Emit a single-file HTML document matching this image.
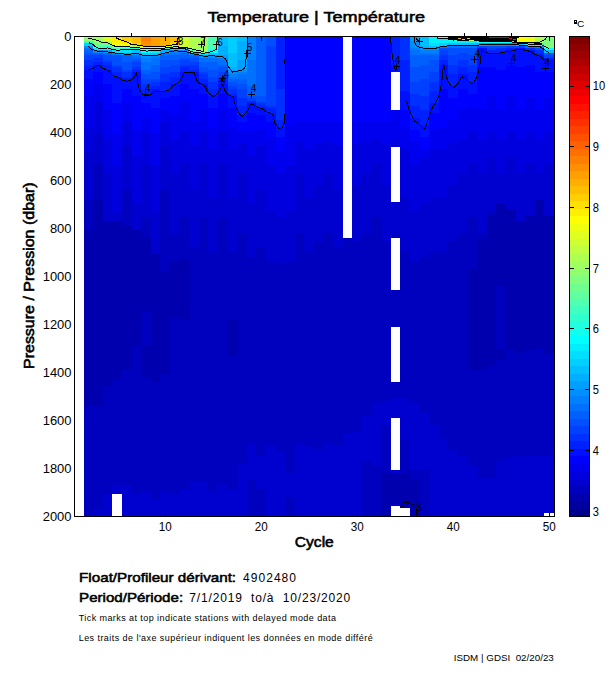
<!DOCTYPE html>
<html><head><meta charset="utf-8"><style>
html,body{margin:0;padding:0;background:#fff;}
svg{display:block;}
text{font-family:"Liberation Sans", sans-serif;fill:#000;}
</style></head><body>
<svg width="611" height="675" viewBox="0 0 611 675">
<rect x="0" y="0" width="611" height="675" fill="#fff"/>
<g shape-rendering="crispEdges">
<rect x="84" y="36.0" width="9" height="2.7" fill="#9fff60"/>
<rect x="84" y="38.4" width="9" height="2.7" fill="#8fff70"/>
<rect x="84" y="40.8" width="9" height="2.7" fill="#30ffcf"/>
<rect x="84" y="43.2" width="9" height="2.7" fill="#00cfff"/>
<rect x="84" y="45.6" width="9" height="2.7" fill="#008fff"/>
<rect x="84" y="48.0" width="9" height="2.7" fill="#0070ff"/>
<rect x="84" y="50.4" width="9" height="2.7" fill="#0060ff"/>
<rect x="84" y="52.8" width="9" height="2.7" fill="#0050ff"/>
<rect x="84" y="55.2" width="9" height="5.1" fill="#0040ff"/>
<rect x="84" y="60.0" width="9" height="5.1" fill="#0030ff"/>
<rect x="84" y="64.8" width="9" height="5.1" fill="#0020ff"/>
<rect x="84" y="69.6" width="9" height="9.9" fill="#0010ff"/>
<rect x="84" y="79.2" width="9" height="17.1" fill="#0000ff"/>
<rect x="84" y="96.0" width="9" height="31.5" fill="#0000ef"/>
<rect x="84" y="127.2" width="9" height="24.3" fill="#0000df"/>
<rect x="84" y="151.2" width="9" height="48.3" fill="#0000cf"/>
<rect x="84" y="199.2" width="9" height="31.5" fill="#0000bf"/>
<rect x="84" y="230.4" width="9" height="175.5" fill="#0000af"/>
<rect x="84" y="405.6" width="9" height="110.7" fill="#0000bf"/>
<rect x="93" y="36.0" width="10" height="2.7" fill="#afff50"/>
<rect x="93" y="38.4" width="10" height="2.7" fill="#9fff60"/>
<rect x="93" y="40.8" width="10" height="2.7" fill="#8fff70"/>
<rect x="93" y="43.2" width="10" height="2.7" fill="#70ff8f"/>
<rect x="93" y="45.6" width="10" height="2.7" fill="#50ffaf"/>
<rect x="93" y="48.0" width="10" height="2.7" fill="#00efff"/>
<rect x="93" y="50.4" width="10" height="2.7" fill="#008fff"/>
<rect x="93" y="52.8" width="10" height="2.7" fill="#0050ff"/>
<rect x="93" y="55.2" width="10" height="2.7" fill="#0040ff"/>
<rect x="93" y="57.6" width="10" height="5.1" fill="#0030ff"/>
<rect x="93" y="62.4" width="10" height="2.7" fill="#0020ff"/>
<rect x="93" y="64.8" width="10" height="7.5" fill="#0010ff"/>
<rect x="93" y="72.0" width="10" height="12.3" fill="#0000ff"/>
<rect x="93" y="84.0" width="10" height="17.1" fill="#0000ef"/>
<rect x="93" y="100.8" width="10" height="33.9" fill="#0000df"/>
<rect x="93" y="134.4" width="10" height="29.1" fill="#0000cf"/>
<rect x="93" y="163.2" width="10" height="36.3" fill="#0000bf"/>
<rect x="93" y="199.2" width="10" height="206.7" fill="#0000af"/>
<rect x="93" y="405.6" width="10" height="103.5" fill="#0000bf"/>
<rect x="93" y="508.8" width="10" height="7.5" fill="#0000cf"/>
<rect x="103" y="36.0" width="9" height="5.1" fill="#dfff20"/>
<rect x="103" y="40.8" width="9" height="2.7" fill="#afff50"/>
<rect x="103" y="43.2" width="9" height="2.7" fill="#70ff8f"/>
<rect x="103" y="45.6" width="9" height="2.7" fill="#30ffcf"/>
<rect x="103" y="48.0" width="9" height="2.7" fill="#00efff"/>
<rect x="103" y="50.4" width="9" height="2.7" fill="#009fff"/>
<rect x="103" y="52.8" width="9" height="2.7" fill="#0060ff"/>
<rect x="103" y="55.2" width="9" height="5.1" fill="#0050ff"/>
<rect x="103" y="60.0" width="9" height="2.7" fill="#0040ff"/>
<rect x="103" y="62.4" width="9" height="2.7" fill="#0030ff"/>
<rect x="103" y="64.8" width="9" height="5.1" fill="#0020ff"/>
<rect x="103" y="69.6" width="9" height="14.7" fill="#0010ff"/>
<rect x="103" y="84.0" width="9" height="26.7" fill="#0000ff"/>
<rect x="103" y="110.4" width="9" height="29.1" fill="#0000ef"/>
<rect x="103" y="139.2" width="9" height="33.9" fill="#0000df"/>
<rect x="103" y="172.8" width="9" height="48.3" fill="#0000cf"/>
<rect x="103" y="220.8" width="9" height="165.9" fill="#0000af"/>
<rect x="103" y="386.4" width="9" height="108.3" fill="#0000bf"/>
<rect x="103" y="494.4" width="9" height="21.9" fill="#0000cf"/>
<rect x="112" y="36.0" width="10" height="2.7" fill="#ffdf00"/>
<rect x="112" y="38.4" width="10" height="5.1" fill="#ffef00"/>
<rect x="112" y="43.2" width="10" height="2.7" fill="#efff10"/>
<rect x="112" y="45.6" width="10" height="2.7" fill="#9fff60"/>
<rect x="112" y="48.0" width="10" height="2.7" fill="#40ffbf"/>
<rect x="112" y="50.4" width="10" height="2.7" fill="#00dfff"/>
<rect x="112" y="52.8" width="10" height="2.7" fill="#0080ff"/>
<rect x="112" y="55.2" width="10" height="9.9" fill="#0050ff"/>
<rect x="112" y="64.8" width="10" height="2.7" fill="#0040ff"/>
<rect x="112" y="67.2" width="10" height="5.1" fill="#0030ff"/>
<rect x="112" y="72.0" width="10" height="5.1" fill="#0020ff"/>
<rect x="112" y="76.8" width="10" height="26.7" fill="#0010ff"/>
<rect x="112" y="103.2" width="10" height="31.5" fill="#0000ff"/>
<rect x="112" y="134.4" width="10" height="31.5" fill="#0000ef"/>
<rect x="112" y="165.6" width="10" height="45.9" fill="#0000df"/>
<rect x="112" y="211.2" width="10" height="9.9" fill="#0000cf"/>
<rect x="112" y="220.8" width="10" height="158.7" fill="#0000af"/>
<rect x="112" y="379.2" width="10" height="105.9" fill="#0000bf"/>
<rect x="112" y="484.8" width="10" height="9.9" fill="#0000cf"/>
<rect x="122" y="36.0" width="10" height="2.7" fill="#ffbf00"/>
<rect x="122" y="38.4" width="10" height="2.7" fill="#ffcf00"/>
<rect x="122" y="40.8" width="10" height="2.7" fill="#ffdf00"/>
<rect x="122" y="43.2" width="10" height="2.7" fill="#ffff00"/>
<rect x="122" y="45.6" width="10" height="2.7" fill="#8fff70"/>
<rect x="122" y="48.0" width="10" height="2.7" fill="#20ffdf"/>
<rect x="122" y="50.4" width="10" height="2.7" fill="#00dfff"/>
<rect x="122" y="52.8" width="10" height="2.7" fill="#009fff"/>
<rect x="122" y="55.2" width="10" height="7.5" fill="#0060ff"/>
<rect x="122" y="62.4" width="10" height="7.5" fill="#0050ff"/>
<rect x="122" y="69.6" width="10" height="2.7" fill="#0040ff"/>
<rect x="122" y="72.0" width="10" height="5.1" fill="#0030ff"/>
<rect x="122" y="76.8" width="10" height="2.7" fill="#0020ff"/>
<rect x="122" y="79.2" width="10" height="9.9" fill="#0010ff"/>
<rect x="122" y="88.8" width="10" height="14.7" fill="#0000ff"/>
<rect x="122" y="103.2" width="10" height="19.5" fill="#0000ef"/>
<rect x="122" y="122.4" width="10" height="24.3" fill="#0000df"/>
<rect x="122" y="146.4" width="10" height="43.5" fill="#0000cf"/>
<rect x="122" y="189.6" width="10" height="36.3" fill="#0000bf"/>
<rect x="122" y="225.6" width="10" height="144.3" fill="#0000af"/>
<rect x="122" y="369.6" width="10" height="115.5" fill="#0000bf"/>
<rect x="122" y="484.8" width="10" height="31.5" fill="#0000cf"/>
<rect x="132" y="36.0" width="9" height="2.7" fill="#ffaf00"/>
<rect x="132" y="38.4" width="9" height="5.1" fill="#ffbf00"/>
<rect x="132" y="43.2" width="9" height="2.7" fill="#ffcf00"/>
<rect x="132" y="45.6" width="9" height="2.7" fill="#bfff40"/>
<rect x="132" y="48.0" width="9" height="2.7" fill="#20ffdf"/>
<rect x="132" y="50.4" width="9" height="2.7" fill="#00bfff"/>
<rect x="132" y="52.8" width="9" height="2.7" fill="#008fff"/>
<rect x="132" y="55.2" width="9" height="2.7" fill="#0070ff"/>
<rect x="132" y="57.6" width="9" height="2.7" fill="#0060ff"/>
<rect x="132" y="60.0" width="9" height="2.7" fill="#0050ff"/>
<rect x="132" y="62.4" width="9" height="5.1" fill="#0040ff"/>
<rect x="132" y="67.2" width="9" height="2.7" fill="#0030ff"/>
<rect x="132" y="69.6" width="9" height="2.7" fill="#0020ff"/>
<rect x="132" y="72.0" width="9" height="24.3" fill="#0010ff"/>
<rect x="132" y="96.0" width="9" height="33.9" fill="#0000ff"/>
<rect x="132" y="129.6" width="9" height="26.7" fill="#0000ef"/>
<rect x="132" y="156.0" width="9" height="48.3" fill="#0000df"/>
<rect x="132" y="204.0" width="9" height="26.7" fill="#0000cf"/>
<rect x="132" y="230.4" width="9" height="115.5" fill="#0000af"/>
<rect x="132" y="345.6" width="9" height="149.1" fill="#0000bf"/>
<rect x="132" y="494.4" width="9" height="21.9" fill="#0000cf"/>
<rect x="141" y="36.0" width="10" height="5.1" fill="#ff8000"/>
<rect x="141" y="40.8" width="10" height="5.1" fill="#ff8f00"/>
<rect x="141" y="45.6" width="10" height="2.7" fill="#ffef00"/>
<rect x="141" y="48.0" width="10" height="2.7" fill="#8fff70"/>
<rect x="141" y="50.4" width="10" height="2.7" fill="#00ffff"/>
<rect x="141" y="52.8" width="10" height="2.7" fill="#00bfff"/>
<rect x="141" y="55.2" width="10" height="2.7" fill="#008fff"/>
<rect x="141" y="57.6" width="10" height="5.1" fill="#0080ff"/>
<rect x="141" y="62.4" width="10" height="7.5" fill="#0070ff"/>
<rect x="141" y="69.6" width="10" height="5.1" fill="#0060ff"/>
<rect x="141" y="74.4" width="10" height="5.1" fill="#0050ff"/>
<rect x="141" y="79.2" width="10" height="5.1" fill="#0040ff"/>
<rect x="141" y="84.0" width="10" height="5.1" fill="#0030ff"/>
<rect x="141" y="88.8" width="10" height="5.1" fill="#0020ff"/>
<rect x="141" y="93.6" width="10" height="9.9" fill="#0010ff"/>
<rect x="141" y="103.2" width="10" height="14.7" fill="#0000ff"/>
<rect x="141" y="117.6" width="10" height="14.7" fill="#0000ef"/>
<rect x="141" y="132.0" width="10" height="31.5" fill="#0000df"/>
<rect x="141" y="163.2" width="10" height="55.5" fill="#0000cf"/>
<rect x="141" y="218.4" width="10" height="19.5" fill="#0000bf"/>
<rect x="141" y="237.6" width="10" height="74.7" fill="#0000af"/>
<rect x="141" y="312.0" width="10" height="33.9" fill="#0000bf"/>
<rect x="141" y="345.6" width="10" height="31.5" fill="#0000af"/>
<rect x="141" y="376.8" width="10" height="115.5" fill="#0000bf"/>
<rect x="141" y="492.0" width="10" height="24.3" fill="#0000cf"/>
<rect x="151" y="36.0" width="9" height="9.9" fill="#ff9f00"/>
<rect x="151" y="45.6" width="9" height="2.7" fill="#ffef00"/>
<rect x="151" y="48.0" width="9" height="2.7" fill="#40ffbf"/>
<rect x="151" y="50.4" width="9" height="2.7" fill="#00efff"/>
<rect x="151" y="52.8" width="9" height="2.7" fill="#00bfff"/>
<rect x="151" y="55.2" width="9" height="2.7" fill="#0080ff"/>
<rect x="151" y="57.6" width="9" height="7.5" fill="#0070ff"/>
<rect x="151" y="64.8" width="9" height="7.5" fill="#0060ff"/>
<rect x="151" y="72.0" width="9" height="7.5" fill="#0050ff"/>
<rect x="151" y="79.2" width="9" height="2.7" fill="#0040ff"/>
<rect x="151" y="81.6" width="9" height="5.1" fill="#0030ff"/>
<rect x="151" y="86.4" width="9" height="2.7" fill="#0020ff"/>
<rect x="151" y="88.8" width="9" height="19.5" fill="#0010ff"/>
<rect x="151" y="108.0" width="9" height="26.7" fill="#0000ff"/>
<rect x="151" y="134.4" width="9" height="31.5" fill="#0000ef"/>
<rect x="151" y="165.6" width="9" height="45.9" fill="#0000df"/>
<rect x="151" y="211.2" width="9" height="43.5" fill="#0000cf"/>
<rect x="151" y="254.4" width="9" height="127.5" fill="#0000af"/>
<rect x="151" y="381.6" width="9" height="117.9" fill="#0000bf"/>
<rect x="151" y="499.2" width="9" height="17.1" fill="#0000cf"/>
<rect x="160" y="36.0" width="10" height="2.7" fill="#ff9f00"/>
<rect x="160" y="38.4" width="10" height="7.5" fill="#ffaf00"/>
<rect x="160" y="45.6" width="10" height="2.7" fill="#ffff00"/>
<rect x="160" y="48.0" width="10" height="2.7" fill="#30ffcf"/>
<rect x="160" y="50.4" width="10" height="2.7" fill="#00afff"/>
<rect x="160" y="52.8" width="10" height="2.7" fill="#0070ff"/>
<rect x="160" y="55.2" width="10" height="5.1" fill="#0060ff"/>
<rect x="160" y="60.0" width="10" height="7.5" fill="#0050ff"/>
<rect x="160" y="67.2" width="10" height="7.5" fill="#0040ff"/>
<rect x="160" y="74.4" width="10" height="7.5" fill="#0030ff"/>
<rect x="160" y="81.6" width="10" height="9.9" fill="#0020ff"/>
<rect x="160" y="91.2" width="10" height="7.5" fill="#0010ff"/>
<rect x="160" y="98.4" width="10" height="12.3" fill="#0000ff"/>
<rect x="160" y="110.4" width="10" height="12.3" fill="#0000ef"/>
<rect x="160" y="122.4" width="10" height="24.3" fill="#0000df"/>
<rect x="160" y="146.4" width="10" height="43.5" fill="#0000cf"/>
<rect x="160" y="189.6" width="10" height="81.9" fill="#0000bf"/>
<rect x="160" y="271.2" width="10" height="103.5" fill="#0000af"/>
<rect x="160" y="374.4" width="10" height="117.9" fill="#0000bf"/>
<rect x="160" y="492.0" width="10" height="24.3" fill="#0000cf"/>
<rect x="170" y="36.0" width="10" height="5.1" fill="#ffbf00"/>
<rect x="170" y="40.8" width="10" height="2.7" fill="#ffcf00"/>
<rect x="170" y="43.2" width="10" height="2.7" fill="#ffdf00"/>
<rect x="170" y="45.6" width="10" height="2.7" fill="#8fff70"/>
<rect x="170" y="48.0" width="10" height="2.7" fill="#00cfff"/>
<rect x="170" y="50.4" width="10" height="2.7" fill="#0080ff"/>
<rect x="170" y="52.8" width="10" height="2.7" fill="#0070ff"/>
<rect x="170" y="55.2" width="10" height="5.1" fill="#0060ff"/>
<rect x="170" y="60.0" width="10" height="5.1" fill="#0050ff"/>
<rect x="170" y="64.8" width="10" height="7.5" fill="#0040ff"/>
<rect x="170" y="72.0" width="10" height="5.1" fill="#0030ff"/>
<rect x="170" y="76.8" width="10" height="7.5" fill="#0020ff"/>
<rect x="170" y="84.0" width="10" height="12.3" fill="#0010ff"/>
<rect x="170" y="96.0" width="10" height="17.1" fill="#0000ff"/>
<rect x="170" y="112.8" width="10" height="26.7" fill="#0000ef"/>
<rect x="170" y="139.2" width="10" height="33.9" fill="#0000df"/>
<rect x="170" y="172.8" width="10" height="60.3" fill="#0000cf"/>
<rect x="170" y="232.8" width="10" height="29.1" fill="#0000bf"/>
<rect x="170" y="261.6" width="10" height="55.5" fill="#0000af"/>
<rect x="170" y="316.8" width="10" height="177.9" fill="#0000bf"/>
<rect x="170" y="494.4" width="10" height="21.9" fill="#0000cf"/>
<rect x="180" y="36.0" width="9" height="12.3" fill="#cfff30"/>
<rect x="180" y="48.0" width="9" height="2.7" fill="#00efff"/>
<rect x="180" y="50.4" width="9" height="2.7" fill="#0080ff"/>
<rect x="180" y="52.8" width="9" height="5.1" fill="#0060ff"/>
<rect x="180" y="57.6" width="9" height="2.7" fill="#0050ff"/>
<rect x="180" y="60.0" width="9" height="5.1" fill="#0040ff"/>
<rect x="180" y="64.8" width="9" height="2.7" fill="#0030ff"/>
<rect x="180" y="67.2" width="9" height="5.1" fill="#0020ff"/>
<rect x="180" y="72.0" width="9" height="12.3" fill="#0010ff"/>
<rect x="180" y="84.0" width="9" height="17.1" fill="#0000ff"/>
<rect x="180" y="100.8" width="9" height="31.5" fill="#0000ef"/>
<rect x="180" y="132.0" width="9" height="31.5" fill="#0000df"/>
<rect x="180" y="163.2" width="9" height="55.5" fill="#0000cf"/>
<rect x="180" y="218.4" width="9" height="41.1" fill="#0000bf"/>
<rect x="180" y="259.2" width="9" height="60.3" fill="#0000af"/>
<rect x="180" y="319.2" width="9" height="170.7" fill="#0000bf"/>
<rect x="180" y="489.6" width="9" height="26.7" fill="#0000cf"/>
<rect x="189" y="36.0" width="10" height="12.3" fill="#afff50"/>
<rect x="189" y="48.0" width="10" height="2.7" fill="#9fff60"/>
<rect x="189" y="50.4" width="10" height="2.7" fill="#50ffaf"/>
<rect x="189" y="52.8" width="10" height="2.7" fill="#008fff"/>
<rect x="189" y="55.2" width="10" height="2.7" fill="#0060ff"/>
<rect x="189" y="57.6" width="10" height="5.1" fill="#0050ff"/>
<rect x="189" y="62.4" width="10" height="2.7" fill="#0040ff"/>
<rect x="189" y="64.8" width="10" height="5.1" fill="#0030ff"/>
<rect x="189" y="69.6" width="10" height="2.7" fill="#0020ff"/>
<rect x="189" y="72.0" width="10" height="17.1" fill="#0010ff"/>
<rect x="189" y="88.8" width="10" height="33.9" fill="#0000ff"/>
<rect x="189" y="122.4" width="10" height="24.3" fill="#0000ef"/>
<rect x="189" y="146.4" width="10" height="43.5" fill="#0000df"/>
<rect x="189" y="189.6" width="10" height="57.9" fill="#0000cf"/>
<rect x="189" y="247.2" width="10" height="235.5" fill="#0000bf"/>
<rect x="189" y="482.4" width="10" height="33.9" fill="#0000cf"/>
<rect x="199" y="36.0" width="9" height="17.1" fill="#9fff60"/>
<rect x="199" y="52.8" width="9" height="2.7" fill="#00dfff"/>
<rect x="199" y="55.2" width="9" height="2.7" fill="#008fff"/>
<rect x="199" y="57.6" width="9" height="5.1" fill="#0070ff"/>
<rect x="199" y="62.4" width="9" height="5.1" fill="#0060ff"/>
<rect x="199" y="67.2" width="9" height="5.1" fill="#0050ff"/>
<rect x="199" y="72.0" width="9" height="2.7" fill="#0040ff"/>
<rect x="199" y="74.4" width="9" height="5.1" fill="#0030ff"/>
<rect x="199" y="79.2" width="9" height="5.1" fill="#0020ff"/>
<rect x="199" y="84.0" width="9" height="9.9" fill="#0010ff"/>
<rect x="199" y="93.6" width="9" height="17.1" fill="#0000ff"/>
<rect x="199" y="110.4" width="9" height="21.9" fill="#0000ef"/>
<rect x="199" y="132.0" width="9" height="31.5" fill="#0000df"/>
<rect x="199" y="163.2" width="9" height="55.5" fill="#0000cf"/>
<rect x="199" y="218.4" width="9" height="264.3" fill="#0000bf"/>
<rect x="199" y="482.4" width="9" height="33.9" fill="#0000cf"/>
<rect x="208" y="36.0" width="10" height="12.3" fill="#50ffaf"/>
<rect x="208" y="48.0" width="10" height="2.7" fill="#40ffbf"/>
<rect x="208" y="50.4" width="10" height="2.7" fill="#00ffff"/>
<rect x="208" y="52.8" width="10" height="2.7" fill="#00bfff"/>
<rect x="208" y="55.2" width="10" height="2.7" fill="#008fff"/>
<rect x="208" y="57.6" width="10" height="5.1" fill="#0070ff"/>
<rect x="208" y="62.4" width="10" height="7.5" fill="#0060ff"/>
<rect x="208" y="69.6" width="10" height="7.5" fill="#0050ff"/>
<rect x="208" y="76.8" width="10" height="5.1" fill="#0040ff"/>
<rect x="208" y="81.6" width="10" height="7.5" fill="#0030ff"/>
<rect x="208" y="88.8" width="10" height="7.5" fill="#0020ff"/>
<rect x="208" y="96.0" width="10" height="12.3" fill="#0010ff"/>
<rect x="208" y="108.0" width="10" height="19.5" fill="#0000ff"/>
<rect x="208" y="127.2" width="10" height="21.9" fill="#0000ef"/>
<rect x="208" y="148.8" width="10" height="48.3" fill="#0000df"/>
<rect x="208" y="196.8" width="10" height="55.5" fill="#0000cf"/>
<rect x="208" y="252.0" width="10" height="240.3" fill="#0000bf"/>
<rect x="208" y="492.0" width="10" height="24.3" fill="#0000cf"/>
<rect x="218" y="36.0" width="10" height="9.9" fill="#00bfff"/>
<rect x="218" y="45.6" width="10" height="9.9" fill="#00afff"/>
<rect x="218" y="55.2" width="10" height="2.7" fill="#009fff"/>
<rect x="218" y="57.6" width="10" height="2.7" fill="#0080ff"/>
<rect x="218" y="60.0" width="10" height="5.1" fill="#0070ff"/>
<rect x="218" y="64.8" width="10" height="2.7" fill="#0060ff"/>
<rect x="218" y="67.2" width="10" height="5.1" fill="#0050ff"/>
<rect x="218" y="72.0" width="10" height="5.1" fill="#0040ff"/>
<rect x="218" y="76.8" width="10" height="2.7" fill="#0030ff"/>
<rect x="218" y="79.2" width="10" height="5.1" fill="#0020ff"/>
<rect x="218" y="84.0" width="10" height="9.9" fill="#0010ff"/>
<rect x="218" y="93.6" width="10" height="17.1" fill="#0000ff"/>
<rect x="218" y="110.4" width="10" height="21.9" fill="#0000ef"/>
<rect x="218" y="132.0" width="10" height="31.5" fill="#0000df"/>
<rect x="218" y="163.2" width="10" height="55.5" fill="#0000cf"/>
<rect x="218" y="218.4" width="10" height="266.7" fill="#0000bf"/>
<rect x="218" y="484.8" width="10" height="31.5" fill="#0000cf"/>
<rect x="228" y="36.0" width="9" height="17.1" fill="#00cfff"/>
<rect x="228" y="52.8" width="9" height="14.7" fill="#00bfff"/>
<rect x="228" y="67.2" width="9" height="2.7" fill="#00afff"/>
<rect x="228" y="69.6" width="9" height="2.7" fill="#009fff"/>
<rect x="228" y="72.0" width="9" height="2.7" fill="#008fff"/>
<rect x="228" y="74.4" width="9" height="2.7" fill="#0080ff"/>
<rect x="228" y="76.8" width="9" height="2.7" fill="#0070ff"/>
<rect x="228" y="79.2" width="9" height="2.7" fill="#0060ff"/>
<rect x="228" y="81.6" width="9" height="5.1" fill="#0050ff"/>
<rect x="228" y="86.4" width="9" height="2.7" fill="#0040ff"/>
<rect x="228" y="88.8" width="9" height="5.1" fill="#0030ff"/>
<rect x="228" y="93.6" width="9" height="2.7" fill="#0020ff"/>
<rect x="228" y="96.0" width="9" height="12.3" fill="#0010ff"/>
<rect x="228" y="108.0" width="9" height="19.5" fill="#0000ff"/>
<rect x="228" y="127.2" width="9" height="21.9" fill="#0000ef"/>
<rect x="228" y="148.8" width="9" height="48.3" fill="#0000df"/>
<rect x="228" y="196.8" width="9" height="55.5" fill="#0000cf"/>
<rect x="228" y="252.0" width="9" height="67.5" fill="#0000bf"/>
<rect x="228" y="319.2" width="9" height="36.3" fill="#0000af"/>
<rect x="228" y="355.2" width="9" height="134.7" fill="#0000bf"/>
<rect x="228" y="489.6" width="9" height="26.7" fill="#0000cf"/>
<rect x="237" y="36.0" width="10" height="5.1" fill="#00bfff"/>
<rect x="237" y="40.8" width="10" height="19.5" fill="#00afff"/>
<rect x="237" y="60.0" width="10" height="9.9" fill="#009fff"/>
<rect x="237" y="69.6" width="10" height="2.7" fill="#008fff"/>
<rect x="237" y="72.0" width="10" height="2.7" fill="#0080ff"/>
<rect x="237" y="74.4" width="10" height="5.1" fill="#0070ff"/>
<rect x="237" y="79.2" width="10" height="5.1" fill="#0060ff"/>
<rect x="237" y="84.0" width="10" height="5.1" fill="#0050ff"/>
<rect x="237" y="88.8" width="10" height="9.9" fill="#0040ff"/>
<rect x="237" y="98.4" width="10" height="7.5" fill="#0030ff"/>
<rect x="237" y="105.6" width="10" height="9.9" fill="#0020ff"/>
<rect x="237" y="115.2" width="10" height="7.5" fill="#0010ff"/>
<rect x="237" y="122.4" width="10" height="9.9" fill="#0000ff"/>
<rect x="237" y="132.0" width="10" height="12.3" fill="#0000ef"/>
<rect x="237" y="144.0" width="10" height="29.1" fill="#0000df"/>
<rect x="237" y="172.8" width="10" height="60.3" fill="#0000cf"/>
<rect x="237" y="232.8" width="10" height="230.7" fill="#0000bf"/>
<rect x="237" y="463.2" width="10" height="53.1" fill="#0000cf"/>
<rect x="247" y="36.0" width="9" height="24.3" fill="#0080ff"/>
<rect x="247" y="60.0" width="9" height="26.7" fill="#0070ff"/>
<rect x="247" y="86.4" width="9" height="9.9" fill="#0060ff"/>
<rect x="247" y="96.0" width="9" height="2.7" fill="#0050ff"/>
<rect x="247" y="98.4" width="9" height="2.7" fill="#0040ff"/>
<rect x="247" y="100.8" width="9" height="2.7" fill="#0020ff"/>
<rect x="247" y="103.2" width="9" height="9.9" fill="#0010ff"/>
<rect x="247" y="112.8" width="9" height="19.5" fill="#0000ff"/>
<rect x="247" y="132.0" width="9" height="24.3" fill="#0000ef"/>
<rect x="247" y="156.0" width="9" height="48.3" fill="#0000df"/>
<rect x="247" y="204.0" width="9" height="53.1" fill="#0000cf"/>
<rect x="247" y="256.8" width="9" height="187.5" fill="#0000bf"/>
<rect x="247" y="444.0" width="9" height="36.3" fill="#0000cf"/>
<rect x="247" y="480.0" width="9" height="36.3" fill="#0000bf"/>
<rect x="256" y="36.0" width="10" height="60.3" fill="#0060ff"/>
<rect x="256" y="96.0" width="10" height="5.1" fill="#0050ff"/>
<rect x="256" y="100.8" width="10" height="2.7" fill="#0040ff"/>
<rect x="256" y="103.2" width="10" height="2.7" fill="#0030ff"/>
<rect x="256" y="105.6" width="10" height="2.7" fill="#0020ff"/>
<rect x="256" y="108.0" width="10" height="7.5" fill="#0010ff"/>
<rect x="256" y="115.2" width="10" height="14.7" fill="#0000ff"/>
<rect x="256" y="129.6" width="10" height="17.1" fill="#0000ef"/>
<rect x="256" y="146.4" width="10" height="43.5" fill="#0000df"/>
<rect x="256" y="189.6" width="10" height="57.9" fill="#0000cf"/>
<rect x="256" y="247.2" width="10" height="209.1" fill="#0000bf"/>
<rect x="256" y="456.0" width="10" height="33.9" fill="#0000cf"/>
<rect x="256" y="489.6" width="10" height="26.7" fill="#0000bf"/>
<rect x="266" y="36.0" width="10" height="9.9" fill="#0050ff"/>
<rect x="266" y="45.6" width="10" height="60.3" fill="#0040ff"/>
<rect x="266" y="105.6" width="10" height="2.7" fill="#0030ff"/>
<rect x="266" y="108.0" width="10" height="5.1" fill="#0020ff"/>
<rect x="266" y="112.8" width="10" height="9.9" fill="#0010ff"/>
<rect x="266" y="122.4" width="10" height="14.7" fill="#0000ff"/>
<rect x="266" y="136.8" width="10" height="29.1" fill="#0000ef"/>
<rect x="266" y="165.6" width="10" height="45.9" fill="#0000df"/>
<rect x="266" y="211.2" width="10" height="50.7" fill="#0000cf"/>
<rect x="266" y="261.6" width="10" height="185.1" fill="#0000bf"/>
<rect x="266" y="446.4" width="10" height="69.9" fill="#0000cf"/>
<rect x="276" y="36.0" width="9" height="53.1" fill="#0020ff"/>
<rect x="276" y="88.8" width="9" height="31.5" fill="#0030ff"/>
<rect x="276" y="120.0" width="9" height="7.5" fill="#0020ff"/>
<rect x="276" y="127.2" width="9" height="9.9" fill="#0010ff"/>
<rect x="276" y="136.8" width="9" height="14.7" fill="#0000ff"/>
<rect x="276" y="151.2" width="9" height="21.9" fill="#0000ef"/>
<rect x="276" y="172.8" width="9" height="45.9" fill="#0000df"/>
<rect x="276" y="218.4" width="9" height="45.9" fill="#0000cf"/>
<rect x="276" y="264.0" width="9" height="187.5" fill="#0000bf"/>
<rect x="276" y="451.2" width="9" height="65.1" fill="#0000cf"/>
<rect x="285" y="36.0" width="10" height="89.1" fill="#0000ff"/>
<rect x="285" y="124.8" width="10" height="41.1" fill="#0000ef"/>
<rect x="285" y="165.6" width="10" height="45.9" fill="#0000df"/>
<rect x="285" y="211.2" width="10" height="50.7" fill="#0000cf"/>
<rect x="285" y="261.6" width="10" height="211.5" fill="#0000bf"/>
<rect x="285" y="472.8" width="10" height="24.3" fill="#0000cf"/>
<rect x="285" y="496.8" width="10" height="19.5" fill="#0000bf"/>
<rect x="295" y="36.0" width="9" height="86.7" fill="#0000ff"/>
<rect x="295" y="122.4" width="9" height="19.5" fill="#0000ef"/>
<rect x="295" y="141.6" width="9" height="31.5" fill="#0000df"/>
<rect x="295" y="172.8" width="9" height="60.3" fill="#0000cf"/>
<rect x="295" y="232.8" width="9" height="211.5" fill="#0000bf"/>
<rect x="295" y="444.0" width="9" height="72.3" fill="#0000cf"/>
<rect x="304" y="36.0" width="10" height="86.7" fill="#0000ff"/>
<rect x="304" y="122.4" width="10" height="26.7" fill="#0000ef"/>
<rect x="304" y="148.8" width="10" height="48.3" fill="#0000df"/>
<rect x="304" y="196.8" width="10" height="55.5" fill="#0000cf"/>
<rect x="304" y="252.0" width="10" height="194.7" fill="#0000bf"/>
<rect x="304" y="446.4" width="10" height="69.9" fill="#0000cf"/>
<rect x="314" y="36.0" width="10" height="86.7" fill="#0000ff"/>
<rect x="314" y="122.4" width="10" height="21.9" fill="#0000ef"/>
<rect x="314" y="144.0" width="10" height="41.1" fill="#0000df"/>
<rect x="314" y="184.8" width="10" height="57.9" fill="#0000cf"/>
<rect x="314" y="242.4" width="10" height="206.7" fill="#0000bf"/>
<rect x="314" y="448.8" width="10" height="67.5" fill="#0000cf"/>
<rect x="324" y="36.0" width="9" height="86.7" fill="#0000ff"/>
<rect x="324" y="122.4" width="9" height="19.5" fill="#0000ef"/>
<rect x="324" y="141.6" width="9" height="31.5" fill="#0000df"/>
<rect x="324" y="172.8" width="9" height="60.3" fill="#0000cf"/>
<rect x="324" y="232.8" width="9" height="211.5" fill="#0000bf"/>
<rect x="324" y="444.0" width="9" height="72.3" fill="#0000cf"/>
<rect x="333" y="36.0" width="10" height="86.7" fill="#0000ff"/>
<rect x="333" y="122.4" width="10" height="24.3" fill="#0000ef"/>
<rect x="333" y="146.4" width="10" height="43.5" fill="#0000df"/>
<rect x="333" y="189.6" width="10" height="57.9" fill="#0000cf"/>
<rect x="333" y="247.2" width="10" height="199.5" fill="#0000bf"/>
<rect x="333" y="446.4" width="10" height="69.9" fill="#0000cf"/>
<rect x="343" y="237.6" width="9" height="197.1" fill="#0000bf"/>
<rect x="343" y="434.4" width="9" height="81.9" fill="#0000cf"/>
<rect x="352" y="36.0" width="10" height="86.7" fill="#0000ff"/>
<rect x="352" y="122.4" width="10" height="21.9" fill="#0000ef"/>
<rect x="352" y="144.0" width="10" height="41.1" fill="#0000df"/>
<rect x="352" y="184.8" width="10" height="57.9" fill="#0000cf"/>
<rect x="352" y="242.4" width="10" height="189.9" fill="#0000bf"/>
<rect x="352" y="432.0" width="10" height="84.3" fill="#0000cf"/>
<rect x="362" y="36.0" width="10" height="86.7" fill="#0000ff"/>
<rect x="362" y="122.4" width="10" height="19.5" fill="#0000ef"/>
<rect x="362" y="141.6" width="10" height="31.5" fill="#0000df"/>
<rect x="362" y="172.8" width="10" height="60.3" fill="#0000cf"/>
<rect x="362" y="232.8" width="10" height="182.7" fill="#0000bf"/>
<rect x="362" y="415.2" width="10" height="45.9" fill="#0000cf"/>
<rect x="362" y="460.8" width="10" height="55.5" fill="#0000bf"/>
<rect x="372" y="36.0" width="9" height="86.7" fill="#0000ff"/>
<rect x="372" y="122.4" width="9" height="17.1" fill="#0000ef"/>
<rect x="372" y="139.2" width="9" height="24.3" fill="#0000df"/>
<rect x="372" y="163.2" width="9" height="55.5" fill="#0000cf"/>
<rect x="372" y="218.4" width="9" height="185.1" fill="#0000bf"/>
<rect x="372" y="403.2" width="9" height="62.7" fill="#0000cf"/>
<rect x="372" y="465.6" width="9" height="50.7" fill="#0000bf"/>
<rect x="381" y="36.0" width="10" height="86.7" fill="#0000ff"/>
<rect x="381" y="122.4" width="10" height="21.9" fill="#0000ef"/>
<rect x="381" y="144.0" width="10" height="41.1" fill="#0000df"/>
<rect x="381" y="184.8" width="10" height="57.9" fill="#0000cf"/>
<rect x="381" y="242.4" width="10" height="158.7" fill="#0000bf"/>
<rect x="381" y="400.8" width="10" height="24.3" fill="#0000cf"/>
<rect x="381" y="424.8" width="10" height="48.3" fill="#0000bf"/>
<rect x="381" y="472.8" width="10" height="43.5" fill="#0000af"/>
<rect x="391" y="36.0" width="9" height="29.1" fill="#0020ff"/>
<rect x="391" y="64.8" width="9" height="7.5" fill="#0010ff"/>
<rect x="391" y="110.4" width="9" height="29.1" fill="#0000ef"/>
<rect x="391" y="139.2" width="9" height="7.5" fill="#0000df"/>
<rect x="391" y="201.6" width="9" height="31.5" fill="#0000cf"/>
<rect x="391" y="232.8" width="9" height="5.1" fill="#0000bf"/>
<rect x="391" y="290.4" width="9" height="36.3" fill="#0000bf"/>
<rect x="391" y="381.6" width="9" height="17.1" fill="#0000bf"/>
<rect x="391" y="398.4" width="9" height="19.5" fill="#0000cf"/>
<rect x="391" y="470.4" width="9" height="2.7" fill="#0000cf"/>
<rect x="391" y="472.8" width="9" height="31.5" fill="#0000af"/>
<rect x="391" y="504.0" width="9" height="2.7" fill="#0000cf"/>
<rect x="400" y="36.0" width="10" height="24.3" fill="#0030ff"/>
<rect x="400" y="60.0" width="10" height="31.5" fill="#0020ff"/>
<rect x="400" y="91.2" width="10" height="19.5" fill="#0010ff"/>
<rect x="400" y="110.4" width="10" height="17.1" fill="#0000ff"/>
<rect x="400" y="127.2" width="10" height="21.9" fill="#0000ef"/>
<rect x="400" y="148.8" width="10" height="48.3" fill="#0000df"/>
<rect x="400" y="196.8" width="10" height="55.5" fill="#0000cf"/>
<rect x="400" y="252.0" width="10" height="146.7" fill="#0000bf"/>
<rect x="400" y="398.4" width="10" height="41.1" fill="#0000cf"/>
<rect x="400" y="439.2" width="10" height="33.9" fill="#0000bf"/>
<rect x="400" y="472.8" width="10" height="36.3" fill="#0000af"/>
<rect x="410" y="36.0" width="10" height="5.1" fill="#009fff"/>
<rect x="410" y="40.8" width="10" height="7.5" fill="#008fff"/>
<rect x="410" y="48.0" width="10" height="2.7" fill="#0080ff"/>
<rect x="410" y="50.4" width="10" height="5.1" fill="#0070ff"/>
<rect x="410" y="55.2" width="10" height="12.3" fill="#0060ff"/>
<rect x="410" y="67.2" width="10" height="14.7" fill="#0050ff"/>
<rect x="410" y="81.6" width="10" height="12.3" fill="#0040ff"/>
<rect x="410" y="93.6" width="10" height="12.3" fill="#0030ff"/>
<rect x="410" y="105.6" width="10" height="12.3" fill="#0020ff"/>
<rect x="410" y="117.6" width="10" height="12.3" fill="#0010ff"/>
<rect x="410" y="129.6" width="10" height="12.3" fill="#0000ff"/>
<rect x="410" y="141.6" width="10" height="24.3" fill="#0000ef"/>
<rect x="410" y="165.6" width="10" height="45.9" fill="#0000df"/>
<rect x="410" y="211.2" width="10" height="50.7" fill="#0000cf"/>
<rect x="410" y="261.6" width="10" height="141.9" fill="#0000bf"/>
<rect x="410" y="403.2" width="10" height="67.5" fill="#0000cf"/>
<rect x="410" y="470.4" width="10" height="9.9" fill="#0000bf"/>
<rect x="410" y="480.0" width="10" height="36.3" fill="#0000af"/>
<rect x="420" y="36.0" width="9" height="9.9" fill="#00bfff"/>
<rect x="420" y="45.6" width="9" height="2.7" fill="#00afff"/>
<rect x="420" y="48.0" width="9" height="2.7" fill="#008fff"/>
<rect x="420" y="50.4" width="9" height="2.7" fill="#0080ff"/>
<rect x="420" y="52.8" width="9" height="2.7" fill="#0070ff"/>
<rect x="420" y="55.2" width="9" height="9.9" fill="#0060ff"/>
<rect x="420" y="64.8" width="9" height="14.7" fill="#0050ff"/>
<rect x="420" y="79.2" width="9" height="17.1" fill="#0040ff"/>
<rect x="420" y="96.0" width="9" height="14.7" fill="#0030ff"/>
<rect x="420" y="110.4" width="9" height="14.7" fill="#0020ff"/>
<rect x="420" y="124.8" width="9" height="12.3" fill="#0010ff"/>
<rect x="420" y="136.8" width="9" height="12.3" fill="#0000ff"/>
<rect x="420" y="148.8" width="9" height="9.9" fill="#0000ef"/>
<rect x="420" y="158.4" width="9" height="45.9" fill="#0000df"/>
<rect x="420" y="204.0" width="9" height="53.1" fill="#0000cf"/>
<rect x="420" y="256.8" width="9" height="156.3" fill="#0000bf"/>
<rect x="420" y="412.8" width="9" height="57.9" fill="#0000cf"/>
<rect x="420" y="470.4" width="9" height="45.9" fill="#0000bf"/>
<rect x="429" y="36.0" width="10" height="2.7" fill="#00ffff"/>
<rect x="429" y="38.4" width="10" height="5.1" fill="#00efff"/>
<rect x="429" y="43.2" width="10" height="2.7" fill="#00dfff"/>
<rect x="429" y="45.6" width="10" height="2.7" fill="#00bfff"/>
<rect x="429" y="48.0" width="10" height="2.7" fill="#008fff"/>
<rect x="429" y="50.4" width="10" height="2.7" fill="#0080ff"/>
<rect x="429" y="52.8" width="10" height="2.7" fill="#0070ff"/>
<rect x="429" y="55.2" width="10" height="5.1" fill="#0060ff"/>
<rect x="429" y="60.0" width="10" height="12.3" fill="#0050ff"/>
<rect x="429" y="72.0" width="10" height="9.9" fill="#0040ff"/>
<rect x="429" y="81.6" width="10" height="9.9" fill="#0030ff"/>
<rect x="429" y="91.2" width="10" height="12.3" fill="#0020ff"/>
<rect x="429" y="103.2" width="10" height="9.9" fill="#0010ff"/>
<rect x="429" y="112.8" width="10" height="17.1" fill="#0000ff"/>
<rect x="429" y="129.6" width="10" height="19.5" fill="#0000ef"/>
<rect x="429" y="148.8" width="10" height="48.3" fill="#0000df"/>
<rect x="429" y="196.8" width="10" height="55.5" fill="#0000cf"/>
<rect x="429" y="252.0" width="10" height="173.1" fill="#0000bf"/>
<rect x="429" y="424.8" width="10" height="91.5" fill="#0000cf"/>
<rect x="439" y="36.0" width="9" height="2.7" fill="#40ffbf"/>
<rect x="439" y="38.4" width="9" height="5.1" fill="#00efff"/>
<rect x="439" y="43.2" width="9" height="2.7" fill="#00cfff"/>
<rect x="439" y="45.6" width="9" height="2.7" fill="#0080ff"/>
<rect x="439" y="48.0" width="9" height="2.7" fill="#0050ff"/>
<rect x="439" y="50.4" width="9" height="5.1" fill="#0040ff"/>
<rect x="439" y="55.2" width="9" height="5.1" fill="#0030ff"/>
<rect x="439" y="60.0" width="9" height="5.1" fill="#0020ff"/>
<rect x="439" y="64.8" width="9" height="24.3" fill="#0010ff"/>
<rect x="439" y="88.8" width="9" height="38.7" fill="#0000ff"/>
<rect x="439" y="127.2" width="9" height="21.9" fill="#0000ef"/>
<rect x="439" y="148.8" width="9" height="48.3" fill="#0000df"/>
<rect x="439" y="196.8" width="9" height="55.5" fill="#0000cf"/>
<rect x="439" y="252.0" width="9" height="187.5" fill="#0000bf"/>
<rect x="439" y="439.2" width="9" height="77.1" fill="#0000cf"/>
<rect x="448" y="36.0" width="10" height="2.7" fill="#9fff60"/>
<rect x="448" y="38.4" width="10" height="2.7" fill="#10ffef"/>
<rect x="448" y="40.8" width="10" height="2.7" fill="#00efff"/>
<rect x="448" y="43.2" width="10" height="2.7" fill="#00bfff"/>
<rect x="448" y="45.6" width="10" height="2.7" fill="#0070ff"/>
<rect x="448" y="48.0" width="10" height="7.5" fill="#0050ff"/>
<rect x="448" y="55.2" width="10" height="9.9" fill="#0040ff"/>
<rect x="448" y="64.8" width="10" height="9.9" fill="#0030ff"/>
<rect x="448" y="74.4" width="10" height="12.3" fill="#0020ff"/>
<rect x="448" y="86.4" width="10" height="12.3" fill="#0010ff"/>
<rect x="448" y="98.4" width="10" height="21.9" fill="#0000ff"/>
<rect x="448" y="120.0" width="10" height="24.3" fill="#0000ef"/>
<rect x="448" y="144.0" width="10" height="41.1" fill="#0000df"/>
<rect x="448" y="184.8" width="10" height="57.9" fill="#0000cf"/>
<rect x="448" y="242.4" width="10" height="206.7" fill="#0000bf"/>
<rect x="448" y="448.8" width="10" height="67.5" fill="#0000cf"/>
<rect x="458" y="36.0" width="10" height="2.7" fill="#dfff20"/>
<rect x="458" y="38.4" width="10" height="2.7" fill="#20ffdf"/>
<rect x="458" y="40.8" width="10" height="2.7" fill="#00efff"/>
<rect x="458" y="43.2" width="10" height="2.7" fill="#00bfff"/>
<rect x="458" y="45.6" width="10" height="2.7" fill="#0070ff"/>
<rect x="458" y="48.0" width="10" height="5.1" fill="#0050ff"/>
<rect x="458" y="52.8" width="10" height="7.5" fill="#0040ff"/>
<rect x="458" y="60.0" width="10" height="7.5" fill="#0030ff"/>
<rect x="458" y="67.2" width="10" height="7.5" fill="#0020ff"/>
<rect x="458" y="74.4" width="10" height="14.7" fill="#0010ff"/>
<rect x="458" y="88.8" width="10" height="21.9" fill="#0000ff"/>
<rect x="458" y="110.4" width="10" height="29.1" fill="#0000ef"/>
<rect x="458" y="139.2" width="10" height="33.9" fill="#0000df"/>
<rect x="458" y="172.8" width="10" height="60.3" fill="#0000cf"/>
<rect x="458" y="232.8" width="10" height="223.5" fill="#0000bf"/>
<rect x="458" y="456.0" width="10" height="60.3" fill="#0000cf"/>
<rect x="468" y="36.0" width="9" height="2.7" fill="#80ff80"/>
<rect x="468" y="38.4" width="9" height="2.7" fill="#10ffef"/>
<rect x="468" y="40.8" width="9" height="2.7" fill="#00efff"/>
<rect x="468" y="43.2" width="9" height="2.7" fill="#00bfff"/>
<rect x="468" y="45.6" width="9" height="2.7" fill="#0070ff"/>
<rect x="468" y="48.0" width="9" height="7.5" fill="#0050ff"/>
<rect x="468" y="55.2" width="9" height="9.9" fill="#0040ff"/>
<rect x="468" y="64.8" width="9" height="7.5" fill="#0030ff"/>
<rect x="468" y="72.0" width="9" height="9.9" fill="#0020ff"/>
<rect x="468" y="81.6" width="9" height="12.3" fill="#0010ff"/>
<rect x="468" y="93.6" width="9" height="14.7" fill="#0000ff"/>
<rect x="468" y="108.0" width="9" height="24.3" fill="#0000ef"/>
<rect x="468" y="132.0" width="9" height="31.5" fill="#0000df"/>
<rect x="468" y="163.2" width="9" height="55.5" fill="#0000cf"/>
<rect x="468" y="218.4" width="9" height="50.7" fill="#0000bf"/>
<rect x="468" y="268.8" width="9" height="101.1" fill="#0000af"/>
<rect x="468" y="369.6" width="9" height="96.3" fill="#0000bf"/>
<rect x="468" y="465.6" width="9" height="50.7" fill="#0000cf"/>
<rect x="477" y="36.0" width="10" height="2.7" fill="#ff4000"/>
<rect x="477" y="38.4" width="10" height="2.7" fill="#9fff60"/>
<rect x="477" y="40.8" width="10" height="2.7" fill="#00ffff"/>
<rect x="477" y="43.2" width="10" height="2.7" fill="#009fff"/>
<rect x="477" y="45.6" width="10" height="2.7" fill="#0040ff"/>
<rect x="477" y="48.0" width="10" height="19.5" fill="#0010ff"/>
<rect x="477" y="67.2" width="10" height="43.5" fill="#0000ff"/>
<rect x="477" y="110.4" width="10" height="29.1" fill="#0000ef"/>
<rect x="477" y="139.2" width="10" height="33.9" fill="#0000df"/>
<rect x="477" y="172.8" width="10" height="60.3" fill="#0000cf"/>
<rect x="477" y="232.8" width="10" height="7.5" fill="#0000bf"/>
<rect x="477" y="240.0" width="10" height="129.9" fill="#0000af"/>
<rect x="477" y="369.6" width="10" height="108.3" fill="#0000bf"/>
<rect x="477" y="477.6" width="10" height="38.7" fill="#0000cf"/>
<rect x="487" y="36.0" width="9" height="2.7" fill="#ff1000"/>
<rect x="487" y="38.4" width="9" height="2.7" fill="#9fff60"/>
<rect x="487" y="40.8" width="9" height="2.7" fill="#00ffff"/>
<rect x="487" y="43.2" width="9" height="2.7" fill="#008fff"/>
<rect x="487" y="45.6" width="9" height="2.7" fill="#0050ff"/>
<rect x="487" y="48.0" width="9" height="2.7" fill="#0040ff"/>
<rect x="487" y="50.4" width="9" height="2.7" fill="#0020ff"/>
<rect x="487" y="52.8" width="9" height="14.7" fill="#0010ff"/>
<rect x="487" y="67.2" width="9" height="29.1" fill="#0000ff"/>
<rect x="487" y="96.0" width="9" height="36.3" fill="#0000ef"/>
<rect x="487" y="132.0" width="9" height="26.7" fill="#0000df"/>
<rect x="487" y="158.4" width="9" height="53.1" fill="#0000cf"/>
<rect x="487" y="211.2" width="9" height="5.1" fill="#0000bf"/>
<rect x="487" y="216.0" width="9" height="149.1" fill="#0000af"/>
<rect x="487" y="364.8" width="9" height="113.1" fill="#0000bf"/>
<rect x="487" y="477.6" width="9" height="38.7" fill="#0000cf"/>
<rect x="496" y="36.0" width="10" height="2.7" fill="#ff0000"/>
<rect x="496" y="38.4" width="10" height="2.7" fill="#9fff60"/>
<rect x="496" y="40.8" width="10" height="2.7" fill="#00ffff"/>
<rect x="496" y="43.2" width="10" height="2.7" fill="#008fff"/>
<rect x="496" y="45.6" width="10" height="2.7" fill="#0050ff"/>
<rect x="496" y="48.0" width="10" height="2.7" fill="#0030ff"/>
<rect x="496" y="50.4" width="10" height="2.7" fill="#0020ff"/>
<rect x="496" y="52.8" width="10" height="17.1" fill="#0010ff"/>
<rect x="496" y="69.6" width="10" height="41.1" fill="#0000ff"/>
<rect x="496" y="110.4" width="10" height="29.1" fill="#0000ef"/>
<rect x="496" y="139.2" width="10" height="33.9" fill="#0000df"/>
<rect x="496" y="172.8" width="10" height="31.5" fill="#0000cf"/>
<rect x="496" y="204.0" width="10" height="81.9" fill="#0000af"/>
<rect x="496" y="285.6" width="10" height="65.1" fill="#0000bf"/>
<rect x="496" y="350.4" width="10" height="9.9" fill="#0000af"/>
<rect x="496" y="360.0" width="10" height="101.1" fill="#0000bf"/>
<rect x="496" y="460.8" width="10" height="55.5" fill="#0000cf"/>
<rect x="506" y="36.0" width="10" height="2.7" fill="#ff5000"/>
<rect x="506" y="38.4" width="10" height="2.7" fill="#bfff40"/>
<rect x="506" y="40.8" width="10" height="2.7" fill="#00ffff"/>
<rect x="506" y="43.2" width="10" height="2.7" fill="#008fff"/>
<rect x="506" y="45.6" width="10" height="2.7" fill="#0040ff"/>
<rect x="506" y="48.0" width="10" height="2.7" fill="#0020ff"/>
<rect x="506" y="50.4" width="10" height="14.7" fill="#0010ff"/>
<rect x="506" y="64.8" width="10" height="31.5" fill="#0000ff"/>
<rect x="506" y="96.0" width="10" height="36.3" fill="#0000ef"/>
<rect x="506" y="132.0" width="10" height="26.7" fill="#0000df"/>
<rect x="506" y="158.4" width="10" height="50.7" fill="#0000cf"/>
<rect x="506" y="208.8" width="10" height="141.9" fill="#0000af"/>
<rect x="506" y="350.4" width="10" height="108.3" fill="#0000bf"/>
<rect x="506" y="458.4" width="10" height="57.9" fill="#0000cf"/>
<rect x="516" y="36.0" width="9" height="7.5" fill="#ffff00"/>
<rect x="516" y="43.2" width="9" height="2.7" fill="#00bfff"/>
<rect x="516" y="45.6" width="9" height="2.7" fill="#0040ff"/>
<rect x="516" y="48.0" width="9" height="19.5" fill="#0010ff"/>
<rect x="516" y="67.2" width="9" height="43.5" fill="#0000ff"/>
<rect x="516" y="110.4" width="9" height="29.1" fill="#0000ef"/>
<rect x="516" y="139.2" width="9" height="33.9" fill="#0000df"/>
<rect x="516" y="172.8" width="9" height="48.3" fill="#0000cf"/>
<rect x="516" y="220.8" width="9" height="132.3" fill="#0000af"/>
<rect x="516" y="352.8" width="9" height="103.5" fill="#0000bf"/>
<rect x="516" y="456.0" width="9" height="60.3" fill="#0000cf"/>
<rect x="525" y="36.0" width="10" height="2.7" fill="#ffff00"/>
<rect x="525" y="38.4" width="10" height="5.1" fill="#efff10"/>
<rect x="525" y="43.2" width="10" height="2.7" fill="#00ffff"/>
<rect x="525" y="45.6" width="10" height="2.7" fill="#0070ff"/>
<rect x="525" y="48.0" width="10" height="2.7" fill="#0030ff"/>
<rect x="525" y="50.4" width="10" height="14.7" fill="#0010ff"/>
<rect x="525" y="64.8" width="10" height="33.9" fill="#0000ff"/>
<rect x="525" y="98.4" width="10" height="33.9" fill="#0000ef"/>
<rect x="525" y="132.0" width="10" height="31.5" fill="#0000df"/>
<rect x="525" y="163.2" width="10" height="53.1" fill="#0000cf"/>
<rect x="525" y="216.0" width="10" height="134.7" fill="#0000af"/>
<rect x="525" y="350.4" width="10" height="105.9" fill="#0000bf"/>
<rect x="525" y="456.0" width="10" height="60.3" fill="#0000cf"/>
<rect x="535" y="36.0" width="9" height="2.7" fill="#bfff40"/>
<rect x="535" y="38.4" width="9" height="2.7" fill="#afff50"/>
<rect x="535" y="40.8" width="9" height="2.7" fill="#9fff60"/>
<rect x="535" y="43.2" width="9" height="2.7" fill="#10ffef"/>
<rect x="535" y="45.6" width="9" height="2.7" fill="#0080ff"/>
<rect x="535" y="48.0" width="9" height="2.7" fill="#0050ff"/>
<rect x="535" y="50.4" width="9" height="2.7" fill="#0030ff"/>
<rect x="535" y="52.8" width="9" height="2.7" fill="#0020ff"/>
<rect x="535" y="55.2" width="9" height="17.1" fill="#0010ff"/>
<rect x="535" y="72.0" width="9" height="38.7" fill="#0000ff"/>
<rect x="535" y="110.4" width="9" height="29.1" fill="#0000ef"/>
<rect x="535" y="139.2" width="9" height="33.9" fill="#0000df"/>
<rect x="535" y="172.8" width="9" height="26.7" fill="#0000cf"/>
<rect x="535" y="199.2" width="9" height="149.1" fill="#0000af"/>
<rect x="535" y="348.0" width="9" height="108.3" fill="#0000bf"/>
<rect x="535" y="456.0" width="9" height="60.3" fill="#0000cf"/>
<rect x="544" y="36.0" width="10" height="2.7" fill="#8fff70"/>
<rect x="544" y="38.4" width="10" height="9.9" fill="#80ff80"/>
<rect x="544" y="48.0" width="10" height="2.7" fill="#00ffff"/>
<rect x="544" y="50.4" width="10" height="2.7" fill="#00bfff"/>
<rect x="544" y="52.8" width="10" height="2.7" fill="#0050ff"/>
<rect x="544" y="55.2" width="10" height="2.7" fill="#0040ff"/>
<rect x="544" y="57.6" width="10" height="2.7" fill="#0020ff"/>
<rect x="544" y="60.0" width="10" height="12.3" fill="#0010ff"/>
<rect x="544" y="72.0" width="10" height="26.7" fill="#0000ff"/>
<rect x="544" y="98.4" width="10" height="33.9" fill="#0000ef"/>
<rect x="544" y="132.0" width="10" height="31.5" fill="#0000df"/>
<rect x="544" y="163.2" width="10" height="53.1" fill="#0000cf"/>
<rect x="544" y="216.0" width="10" height="137.1" fill="#0000af"/>
<rect x="544" y="352.8" width="10" height="103.5" fill="#0000bf"/>
<rect x="544" y="456.0" width="10" height="57.9" fill="#0000cf"/>
</g>
<g fill="none" stroke="#000" stroke-width="1" stroke-linejoin="miter" shape-rendering="crispEdges">
<polyline points="88.5,70.0 93.1,68.4 96.2,66.0 98.1,65.2 99.7,66.0 102.7,68.4 107.7,70.1 108.7,70.8 110.0,73.2 112.8,75.6 117.3,77.2 119.1,78.0 123.0,80.4 126.9,81.2 129.9,80.4 134.0,78.0 135.2,75.6 135.8,73.2 136.5,72.8 136.8,73.2 137.0,75.6 137.2,78.0 137.5,80.4 137.8,82.8 138.2,85.2 138.8,87.6 139.7,90.0 141.1,92.4 143.7,94.8 146.1,96.0 150.5,94.8 153.6,92.4 155.7,91.3 165.3,91.4 168.9,90.0 171.6,87.6 173.3,85.2 174.9,84.4 178.3,82.8 180.5,80.4 181.9,78.0 183.0,75.6 183.7,73.2 184.5,72.7 194.1,72.7 194.7,73.2 195.1,75.6 195.8,78.0 196.9,80.4 198.9,82.8 203.7,84.6 204.5,85.2 205.5,87.6 206.7,90.0 208.2,92.4 210.4,94.8 213.3,96.4 216.2,94.8 218.4,92.4 219.9,90.0 221.1,87.6 222.1,85.2 222.9,84.6 223.4,85.2 223.9,87.6 224.8,90.0 226.0,92.4 228.2,94.8 232.5,96.7 233.2,97.2 233.7,99.6 234.3,102.0 235.1,104.4 235.9,106.8 237.0,109.2 238.2,111.6 239.7,114.0 241.6,116.4 242.1,116.8 242.8,116.4 245.1,114.0 246.9,111.6 248.3,109.2 249.4,106.8 250.4,104.4 251.7,103.9 253.1,104.4 255.9,106.8 261.3,108.4 263.0,109.2 266.1,111.6 270.9,113.2 272.3,114.0 273.1,116.4 273.8,118.8 274.4,121.2 275.4,123.6 276.9,126.0 278.9,128.4 280.5,129.6 281.6,128.4 282.9,126.0 284.0,123.6 284.6,121.2 284.8,118.8 284.9,116.4 285.0,114.0 285.1,111.6 285.2,109.2 285.2,106.8 285.2,104.4 285.1,102.0 285.1,99.6 285.1,97.2 285.1,94.8 285.1,92.4 285.1,90.0 285.1,87.6 285.1,85.2 285.1,82.8 285.0,80.4 285.0,78.0 285.0,75.6 285.0,73.2 285.0,70.8 285.0,68.4 285.0,66.0 285.0,63.6 284.9,61.2 285.0,58.8 285.0,56.4 285.1,54.0 285.1,51.6 285.2,49.2 285.2,46.8 285.3,44.4 285.3,42.0 285.4,39.6 285.5,37.2"/>
<polyline points="390.5,37.2 390.6,39.6 390.9,42.0 391.1,44.4 391.3,46.8 391.6,49.2 391.8,51.6 392.1,54.0 392.5,56.4 392.8,58.8 393.3,61.2 393.7,63.6 394.2,66.0 394.8,68.4 395.4,70.8"/>
<polyline points="405.3,99.7 406.7,102.0 407.5,104.4 408.3,106.8 409.2,109.2 410.1,111.6 411.1,114.0 412.2,116.4 413.3,118.8 414.5,121.2 414.9,121.6 418.8,123.6 421.1,126.0 423.2,128.4 424.5,129.1 425.1,128.4 425.9,126.0 426.7,123.6 427.6,121.2 428.4,118.8 429.2,116.4 430.1,114.0 430.9,111.6 431.8,109.2 432.6,106.8 434.1,104.8 434.6,104.4 436.2,102.0 437.4,99.6 438.3,97.2 439.1,94.8 439.8,92.4 440.3,90.0 440.8,87.6 441.2,85.2 441.6,82.8 441.9,80.4 442.2,78.0 442.4,75.6 442.7,73.2 442.9,70.8 443.1,68.4 443.2,66.0 443.7,65.1 444.4,66.0 444.8,68.4 445.1,70.8 445.6,73.2 446.1,75.6 446.8,78.0 447.7,80.4 448.9,82.8 450.4,85.2 452.8,87.6 453.3,87.9 453.8,87.6 456.5,85.2 458.5,82.8 460.0,80.4 461.2,78.0 462.9,76.8 465.2,78.0 467.2,80.4 470.3,82.8 472.5,83.7 473.5,82.8 475.1,80.4 476.3,78.0 477.3,75.6 478.1,73.2 478.7,70.8 479.2,68.4 479.7,66.0 480.1,63.6 480.5,61.2 480.8,58.8 481.0,56.4 481.3,54.0 481.5,51.6 481.7,49.2 482.1,49.1 482.7,49.2 483.7,51.6 491.7,54.0 501.3,52.9 506.5,51.6 510.9,51.1 518.9,49.2 520.5,49.1 521.3,49.2 530.1,51.4 531.1,51.6 533.6,54.0 539.7,55.7 540.4,56.4 542.2,58.8 549.3,60.7"/>
<polyline points="88.5,46.4 89.0,46.8 91.5,49.2 98.1,51.3 103.4,51.6 107.7,52.0 117.3,53.4 124.2,54.0 126.9,54.3 131.1,54.0 136.5,53.5 138.7,54.0 146.1,56.0 155.7,55.6 161.1,54.0 165.3,52.8 170.3,51.6 174.9,50.9 184.5,51.2 185.4,51.6 194.1,54.0 203.7,56.1 213.3,55.9 220.4,56.4 222.9,56.9 225.1,58.8 226.8,61.2 227.6,63.6 228.1,66.0 229.6,68.4 231.4,70.8 232.5,72.1 238.6,70.8 242.1,70.0 244.5,68.4 245.2,66.0 245.5,63.6 245.8,61.2 246.0,58.8 246.3,56.4 246.6,54.0 246.8,51.6 247.1,49.2 247.3,46.8 247.5,44.4 247.7,42.0 247.8,39.6 248.0,37.2"/>
<polyline points="414.0,37.2 414.4,39.6 414.8,42.0 414.9,42.7 415.6,44.4 417.8,46.8 424.5,48.5 434.1,48.8 440.3,46.8 443.7,46.1 453.3,45.8 462.9,45.8 472.5,45.7 482.1,44.6 485.7,44.4 491.7,44.1 501.3,44.1 510.9,44.1 513.3,44.4 520.5,45.2 530.1,46.2 539.7,46.5 540.3,46.8 543.7,49.2 546.7,51.6 549.3,52.5"/>
<polyline points="88.5,42.6 93.0,44.4 95.4,46.8 98.1,48.2 107.7,48.0 111.9,49.2 117.3,50.2 126.9,49.6 136.5,49.5 146.1,51.1 155.7,50.5 165.3,49.6 167.8,49.2 174.9,48.4 184.5,48.8 186.5,49.2 191.4,51.6 194.1,52.3 203.7,53.3 212.0,51.6 213.3,50.8 216.4,49.2 216.8,46.8 216.9,44.4 217.0,42.0 217.1,39.6 217.2,37.2"/>
<polyline points="437.8,37.2 443.7,38.6 453.3,39.5 459.1,39.6 462.9,39.8 466.7,39.6 472.5,39.4 473.0,39.6 482.1,41.6 491.7,41.6 501.3,41.6 510.9,41.7 511.9,42.0 520.5,43.7 530.1,44.1 539.7,44.2 540.5,44.4 545.3,46.8 549.3,48.7"/>
<polyline points="88.5,38.4 94.9,39.6 98.1,40.5 101.3,42.0 107.7,43.0 110.4,44.4 116.6,46.8 117.3,47.0 125.5,46.8 126.9,46.8 127.2,46.8 136.5,47.4 146.1,48.9 155.7,48.2 165.3,48.0 174.7,46.8 174.9,46.8 175.4,46.8 184.5,47.4 193.3,49.2 194.1,49.6 203.7,51.6 203.7,51.6 203.7,51.6 203.8,49.2 204.0,46.8 204.1,44.4 204.2,42.0 204.4,39.6 204.5,37.2"/>
<polyline points="452.0,37.2 453.3,37.4 462.9,38.1 469.9,37.2"/>
<polyline points="473.3,37.2 482.1,39.6 482.1,39.6 491.7,39.8 501.3,39.8 510.9,40.1 516.8,42.0 520.5,42.7 530.1,42.9 539.7,42.0 544.9,39.6 546.4,37.2"/>
<polyline points="115.8,37.2 117.3,38.6 120.3,39.6 126.9,42.0 131.2,44.4 136.5,44.9 146.1,46.5 155.7,46.3 165.3,46.2 174.9,44.6 176.3,44.4 177.6,42.0 177.9,39.6 178.2,37.2"/>
<polyline points="477.1,37.2 482.1,38.6 491.7,38.8 501.3,38.8 510.9,38.7 519.2,37.2"/>
<polyline points="480.9,37.2 482.1,37.5 491.7,37.8 501.3,37.9 510.9,37.3 511.7,37.2"/>
</g>
<g stroke="none" shape-rendering="crispEdges">
<path d="M415.5 41.5h7M419.5 38v7M416 38.5l3 3" fill="none" stroke="#000" stroke-width="1"/>
<path d="M401.5 507.5L405 501.5L415 505.5L417 510" fill="none" stroke="#000" stroke-width="1"/>
<rect x="112" y="494" width="10" height="22" fill="#fff"/>
<rect x="391" y="506" width="9" height="10" fill="#fff"/>
<rect x="400" y="508" width="10" height="8" fill="#fff"/>
<rect x="544" y="513" width="10" height="3" fill="#fff"/>
<rect x="455" y="37" width="62" height="4" fill="#000"/>
<rect x="437" y="37" width="20" height="2" fill="#000"/>
<rect x="489" y="37" width="20" height="1" fill="#e00000"/>
<rect x="509" y="38" width="3" height="1" fill="#ff0000"/>
<rect x="513" y="39" width="3" height="1" fill="#ff2000"/>
<rect x="438" y="37" width="10" height="1" fill="#80ff80"/>
<rect x="458" y="38" width="3" height="1" fill="#ffb000"/>
<rect x="462" y="39" width="3" height="1" fill="#ffd000"/>
<rect x="467" y="38" width="3" height="1" fill="#ffd000"/>
<rect x="469" y="40" width="5" height="1" fill="#b0ff50"/>
<rect x="455" y="40" width="2" height="1" fill="#40ffc0"/>
<rect x="516" y="42" width="20" height="1" fill="#000"/>
<rect x="534" y="43" width="8" height="2" fill="#000"/>
</g>
<g>
<text x="145.1" y="92.0" font-size="10.5" textLength="5.6" lengthAdjust="spacingAndGlyphs">4</text>
<path d="M141.5 94.5h7M145.0 91.0v7" stroke="#000" fill="none" shape-rendering="crispEdges"/>
<text x="223.7" y="78.0" font-size="10.5" textLength="5.6" lengthAdjust="spacingAndGlyphs">4</text>
<path d="M219.0 78.5h7M222.5 75.0v7" stroke="#000" fill="none" shape-rendering="crispEdges"/>
<text x="220.3" y="83.7" font-size="10.5" textLength="5.6" lengthAdjust="spacingAndGlyphs">4</text>
<path d="M217.5 81.5h7M221.0 78.0v7" stroke="#000" fill="none" shape-rendering="crispEdges"/>
<text x="250.7" y="92.0" font-size="10.5" textLength="5.6" lengthAdjust="spacingAndGlyphs">4</text>
<path d="M248.0 94.0h7M251.5 90.5v7" stroke="#000" fill="none" shape-rendering="crispEdges"/>
<text x="246.7" y="51.0" font-size="10.5" textLength="5.6" lengthAdjust="spacingAndGlyphs">5</text>
<path d="M244.0 53.0h7M247.5 49.5v7" stroke="#000" fill="none" shape-rendering="crispEdges"/>
<text x="177.7" y="44.5" font-size="10.5" textLength="5.6" lengthAdjust="spacingAndGlyphs">8</text>
<path d="M174.0 41.5h7M177.5 38.0v7" stroke="#000" fill="none" shape-rendering="crispEdges"/>
<text x="200.2" y="45.3" font-size="10.5" textLength="5.6" lengthAdjust="spacingAndGlyphs">7</text>
<path d="M198.2 44.5h7M201.7 41.0v7" stroke="#000" fill="none" shape-rendering="crispEdges"/>
<text x="217.2" y="45.5" font-size="10.5" textLength="5.6" lengthAdjust="spacingAndGlyphs">6</text>
<path d="M213.0 44.5h7M216.5 41.0v7" stroke="#000" fill="none" shape-rendering="crispEdges"/>
<text x="394.7" y="63.6" font-size="10.5" textLength="5.6" lengthAdjust="spacingAndGlyphs">4</text>
<path d="M393.0 66.0h7M396.5 62.5v7" stroke="#000" fill="none" shape-rendering="crispEdges"/>
<text x="474.7" y="56.8" font-size="10.5" textLength="5.6" lengthAdjust="spacingAndGlyphs">4</text>
<path d="M470.5 59.5h7M474.0 56.0v7" stroke="#000" fill="none" shape-rendering="crispEdges"/>
<text x="510.7" y="61.7" font-size="10.5" textLength="5.6" lengthAdjust="spacingAndGlyphs">4</text>
<path d="M508.0 63.5h7M511.5 60.0v7" stroke="#000" fill="none" shape-rendering="crispEdges"/>
<text x="544.2" y="66.0" font-size="10.5" textLength="5.6" lengthAdjust="spacingAndGlyphs">4</text>
<path d="M541.5 68.5h7M545.0 65.0v7" stroke="#000" fill="none" shape-rendering="crispEdges"/>
<text x="415.7" y="511.0" font-size="10.5" textLength="5.6" lengthAdjust="spacingAndGlyphs">3</text>
<path d="M413.0 513.5h7M416.5 510.0v7" stroke="#000" fill="none" shape-rendering="crispEdges"/>
</g>
<g shape-rendering="crispEdges">
<rect x="569.5" y="508.50" width="20" height="7.8" fill="#00008f"/>
<rect x="569.5" y="501.00" width="20" height="7.8" fill="#00009f"/>
<rect x="569.5" y="493.50" width="20" height="7.8" fill="#0000af"/>
<rect x="569.5" y="486.00" width="20" height="7.8" fill="#0000bf"/>
<rect x="569.5" y="478.50" width="20" height="7.8" fill="#0000cf"/>
<rect x="569.5" y="471.00" width="20" height="7.8" fill="#0000df"/>
<rect x="569.5" y="463.50" width="20" height="7.8" fill="#0000ef"/>
<rect x="569.5" y="456.00" width="20" height="7.8" fill="#0000ff"/>
<rect x="569.5" y="448.50" width="20" height="7.8" fill="#0010ff"/>
<rect x="569.5" y="441.00" width="20" height="7.8" fill="#0020ff"/>
<rect x="569.5" y="433.50" width="20" height="7.8" fill="#0030ff"/>
<rect x="569.5" y="426.00" width="20" height="7.8" fill="#0040ff"/>
<rect x="569.5" y="418.50" width="20" height="7.8" fill="#0050ff"/>
<rect x="569.5" y="411.00" width="20" height="7.8" fill="#0060ff"/>
<rect x="569.5" y="403.50" width="20" height="7.8" fill="#0070ff"/>
<rect x="569.5" y="396.00" width="20" height="7.8" fill="#0080ff"/>
<rect x="569.5" y="388.50" width="20" height="7.8" fill="#008fff"/>
<rect x="569.5" y="381.00" width="20" height="7.8" fill="#009fff"/>
<rect x="569.5" y="373.50" width="20" height="7.8" fill="#00afff"/>
<rect x="569.5" y="366.00" width="20" height="7.8" fill="#00bfff"/>
<rect x="569.5" y="358.50" width="20" height="7.8" fill="#00cfff"/>
<rect x="569.5" y="351.00" width="20" height="7.8" fill="#00dfff"/>
<rect x="569.5" y="343.50" width="20" height="7.8" fill="#00efff"/>
<rect x="569.5" y="336.00" width="20" height="7.8" fill="#00ffff"/>
<rect x="569.5" y="328.50" width="20" height="7.8" fill="#10ffef"/>
<rect x="569.5" y="321.00" width="20" height="7.8" fill="#20ffdf"/>
<rect x="569.5" y="313.50" width="20" height="7.8" fill="#30ffcf"/>
<rect x="569.5" y="306.00" width="20" height="7.8" fill="#40ffbf"/>
<rect x="569.5" y="298.50" width="20" height="7.8" fill="#50ffaf"/>
<rect x="569.5" y="291.00" width="20" height="7.8" fill="#60ff9f"/>
<rect x="569.5" y="283.50" width="20" height="7.8" fill="#70ff8f"/>
<rect x="569.5" y="276.00" width="20" height="7.8" fill="#80ff80"/>
<rect x="569.5" y="268.50" width="20" height="7.8" fill="#8fff70"/>
<rect x="569.5" y="261.00" width="20" height="7.8" fill="#9fff60"/>
<rect x="569.5" y="253.50" width="20" height="7.8" fill="#afff50"/>
<rect x="569.5" y="246.00" width="20" height="7.8" fill="#bfff40"/>
<rect x="569.5" y="238.50" width="20" height="7.8" fill="#cfff30"/>
<rect x="569.5" y="231.00" width="20" height="7.8" fill="#dfff20"/>
<rect x="569.5" y="223.50" width="20" height="7.8" fill="#efff10"/>
<rect x="569.5" y="216.00" width="20" height="7.8" fill="#ffff00"/>
<rect x="569.5" y="208.50" width="20" height="7.8" fill="#ffef00"/>
<rect x="569.5" y="201.00" width="20" height="7.8" fill="#ffdf00"/>
<rect x="569.5" y="193.50" width="20" height="7.8" fill="#ffcf00"/>
<rect x="569.5" y="186.00" width="20" height="7.8" fill="#ffbf00"/>
<rect x="569.5" y="178.50" width="20" height="7.8" fill="#ffaf00"/>
<rect x="569.5" y="171.00" width="20" height="7.8" fill="#ff9f00"/>
<rect x="569.5" y="163.50" width="20" height="7.8" fill="#ff8f00"/>
<rect x="569.5" y="156.00" width="20" height="7.8" fill="#ff8000"/>
<rect x="569.5" y="148.50" width="20" height="7.8" fill="#ff7000"/>
<rect x="569.5" y="141.00" width="20" height="7.8" fill="#ff6000"/>
<rect x="569.5" y="133.50" width="20" height="7.8" fill="#ff5000"/>
<rect x="569.5" y="126.00" width="20" height="7.8" fill="#ff4000"/>
<rect x="569.5" y="118.50" width="20" height="7.8" fill="#ff3000"/>
<rect x="569.5" y="111.00" width="20" height="7.8" fill="#ff2000"/>
<rect x="569.5" y="103.50" width="20" height="7.8" fill="#ff1000"/>
<rect x="569.5" y="96.00" width="20" height="7.8" fill="#ff0000"/>
<rect x="569.5" y="88.50" width="20" height="7.8" fill="#ef0000"/>
<rect x="569.5" y="81.00" width="20" height="7.8" fill="#df0000"/>
<rect x="569.5" y="73.50" width="20" height="7.8" fill="#cf0000"/>
<rect x="569.5" y="66.00" width="20" height="7.8" fill="#bf0000"/>
<rect x="569.5" y="58.50" width="20" height="7.8" fill="#af0000"/>
<rect x="569.5" y="51.00" width="20" height="7.8" fill="#9f0000"/>
<rect x="569.5" y="43.50" width="20" height="7.8" fill="#8f0000"/>
<rect x="569.5" y="36.00" width="20" height="7.8" fill="#800000"/>
</g>
<g stroke="#000" stroke-width="1" fill="none" shape-rendering="crispEdges">
<rect x="74.5" y="36.5" width="480" height="480"/>
<rect x="569.5" y="36.5" width="20" height="480"/>
<line x1="165.8" y1="511" x2="165.8" y2="516"/>
<line x1="165.8" y1="36" x2="165.8" y2="41"/>
<line x1="261.8" y1="511" x2="261.8" y2="516"/>
<line x1="261.8" y1="36" x2="261.8" y2="41"/>
<line x1="357.8" y1="511" x2="357.8" y2="516"/>
<line x1="357.8" y1="36" x2="357.8" y2="41"/>
<line x1="453.8" y1="511" x2="453.8" y2="516"/>
<line x1="453.8" y1="36" x2="453.8" y2="41"/>
<line x1="549.8" y1="511" x2="549.8" y2="516"/>
<line x1="549.8" y1="36" x2="549.8" y2="41"/>
<line x1="131.5" y1="32.5" x2="131.5" y2="36"/>
<line x1="464.5" y1="32.5" x2="464.5" y2="36"/>
<line x1="486.5" y1="32.5" x2="486.5" y2="36"/>
<line x1="511.5" y1="32.5" x2="511.5" y2="36"/>
<line x1="569.5" y1="511.5" x2="574" y2="511.5"/>
<line x1="584.5" y1="511.5" x2="589" y2="511.5"/>
<line x1="569.5" y1="450.5" x2="574" y2="450.5"/>
<line x1="584.5" y1="450.5" x2="589" y2="450.5"/>
<line x1="569.5" y1="389.5" x2="574" y2="389.5"/>
<line x1="584.5" y1="389.5" x2="589" y2="389.5"/>
<line x1="569.5" y1="328.5" x2="574" y2="328.5"/>
<line x1="584.5" y1="328.5" x2="589" y2="328.5"/>
<line x1="569.5" y1="268.5" x2="574" y2="268.5"/>
<line x1="584.5" y1="268.5" x2="589" y2="268.5"/>
<line x1="569.5" y1="207.5" x2="574" y2="207.5"/>
<line x1="584.5" y1="207.5" x2="589" y2="207.5"/>
<line x1="569.5" y1="146.5" x2="574" y2="146.5"/>
<line x1="584.5" y1="146.5" x2="589" y2="146.5"/>
<line x1="569.5" y1="86.5" x2="574" y2="86.5"/>
<line x1="584.5" y1="86.5" x2="589" y2="86.5"/>
</g>
<text x="207.5" y="21.8" font-size="15.5" font-weight="normal" stroke="#000" stroke-width="0.55" text-anchor="start" textLength="217.5" lengthAdjust="spacingAndGlyphs" >Temperature | Température</text>
<text x="64.3" y="40.5" font-size="12.0" text-anchor="start" textLength="7.2" lengthAdjust="spacingAndGlyphs" >0</text>
<text x="49.9" y="88.5" font-size="12.0" text-anchor="start" textLength="21.6" lengthAdjust="spacingAndGlyphs" >200</text>
<text x="49.9" y="136.5" font-size="12.0" text-anchor="start" textLength="21.6" lengthAdjust="spacingAndGlyphs" >400</text>
<text x="49.9" y="184.5" font-size="12.0" text-anchor="start" textLength="21.6" lengthAdjust="spacingAndGlyphs" >600</text>
<text x="49.9" y="232.5" font-size="12.0" text-anchor="start" textLength="21.6" lengthAdjust="spacingAndGlyphs" >800</text>
<text x="42.7" y="280.5" font-size="12.0" text-anchor="start" textLength="28.8" lengthAdjust="spacingAndGlyphs" >1000</text>
<text x="42.7" y="328.5" font-size="12.0" text-anchor="start" textLength="28.8" lengthAdjust="spacingAndGlyphs" >1200</text>
<text x="42.7" y="376.5" font-size="12.0" text-anchor="start" textLength="28.8" lengthAdjust="spacingAndGlyphs" >1400</text>
<text x="42.7" y="424.5" font-size="12.0" text-anchor="start" textLength="28.8" lengthAdjust="spacingAndGlyphs" >1600</text>
<text x="42.7" y="472.5" font-size="12.0" text-anchor="start" textLength="28.8" lengthAdjust="spacingAndGlyphs" >1800</text>
<text x="42.7" y="520.5" font-size="12.0" text-anchor="start" textLength="28.8" lengthAdjust="spacingAndGlyphs" >2000</text>
<text x="158.8" y="531.0" font-size="12.0" text-anchor="start" textLength="13.0" lengthAdjust="spacingAndGlyphs" >10</text>
<text x="254.8" y="531.0" font-size="12.0" text-anchor="start" textLength="13.0" lengthAdjust="spacingAndGlyphs" >20</text>
<text x="350.8" y="531.0" font-size="12.0" text-anchor="start" textLength="13.0" lengthAdjust="spacingAndGlyphs" >30</text>
<text x="446.8" y="531.0" font-size="12.0" text-anchor="start" textLength="13.0" lengthAdjust="spacingAndGlyphs" >40</text>
<text x="542.8" y="531.0" font-size="12.0" text-anchor="start" textLength="13.0" lengthAdjust="spacingAndGlyphs" >50</text>
<text x="592.7" y="515.5" font-size="12.0" text-anchor="start" textLength="6.2" lengthAdjust="spacingAndGlyphs" >3</text>
<text x="592.7" y="454.8" font-size="12.0" text-anchor="start" textLength="6.2" lengthAdjust="spacingAndGlyphs" >4</text>
<text x="592.7" y="394.0" font-size="12.0" text-anchor="start" textLength="6.2" lengthAdjust="spacingAndGlyphs" >5</text>
<text x="592.7" y="333.3" font-size="12.0" text-anchor="start" textLength="6.2" lengthAdjust="spacingAndGlyphs" >6</text>
<text x="592.7" y="272.5" font-size="12.0" text-anchor="start" textLength="6.2" lengthAdjust="spacingAndGlyphs" >7</text>
<text x="592.7" y="211.8" font-size="12.0" text-anchor="start" textLength="6.2" lengthAdjust="spacingAndGlyphs" >8</text>
<text x="592.7" y="151.1" font-size="12.0" text-anchor="start" textLength="6.2" lengthAdjust="spacingAndGlyphs" >9</text>
<text x="592.7" y="90.3" font-size="12.0" text-anchor="start" textLength="12.4" lengthAdjust="spacingAndGlyphs" >10</text>
<text x="577.0" y="27.2" font-size="9.8" text-anchor="start" textLength="7.3" lengthAdjust="spacingAndGlyphs" >C</text>
<rect x="574" y="20" width="3" height="4" fill="#000"/><rect x="575" y="21" width="1" height="1" fill="#fff"/>
<text x="294.8" y="546.8" font-size="14.0" font-weight="normal" stroke="#000" stroke-width="0.55" text-anchor="start" textLength="39.0" lengthAdjust="spacingAndGlyphs" >Cycle</text>
<text x="79.1" y="581.9" font-size="13.3" font-weight="normal" stroke="#000" stroke-width="0.55" text-anchor="start" textLength="157.0" lengthAdjust="spacingAndGlyphs" >Float/Profileur dérivant:</text>
<text x="243.0" y="581.9" font-size="12.0" text-anchor="start" textLength="53.0" lengthAdjust="spacing" >4902480</text>
<text x="79.1" y="601.5" font-size="13.3" font-weight="normal" stroke="#000" stroke-width="0.55" text-anchor="start" textLength="104.0" lengthAdjust="spacingAndGlyphs" >Period/Période:</text>
<text x="189.3" y="601.5" font-size="12.0" text-anchor="start" textLength="161.0" lengthAdjust="spacing" xml:space="preserve">7/1/2019  to/à  10/23/2020</text>
<text x="78.7" y="620.8" font-size="9.0" text-anchor="start" textLength="257.3" lengthAdjust="spacing" >Tick marks at top indicate stations with delayed mode data</text>
<text x="78.7" y="640.7" font-size="9.0" text-anchor="start" textLength="294.0" lengthAdjust="spacing" >Les traits de l'axe supérieur indiquent les données en mode différé</text>
<text x="453.8" y="661.0" font-size="9.0" text-anchor="start" textLength="100.0" lengthAdjust="spacingAndGlyphs" xml:space="preserve">ISDM | GDSI  02/20/23</text>
<text transform="translate(34.2,369) rotate(-90)" font-size="15" font-weight="normal" stroke="#000" stroke-width="0.6" textLength="186.6" lengthAdjust="spacingAndGlyphs">Pressure / Pression (dbar)</text>
</svg>
</body></html>
